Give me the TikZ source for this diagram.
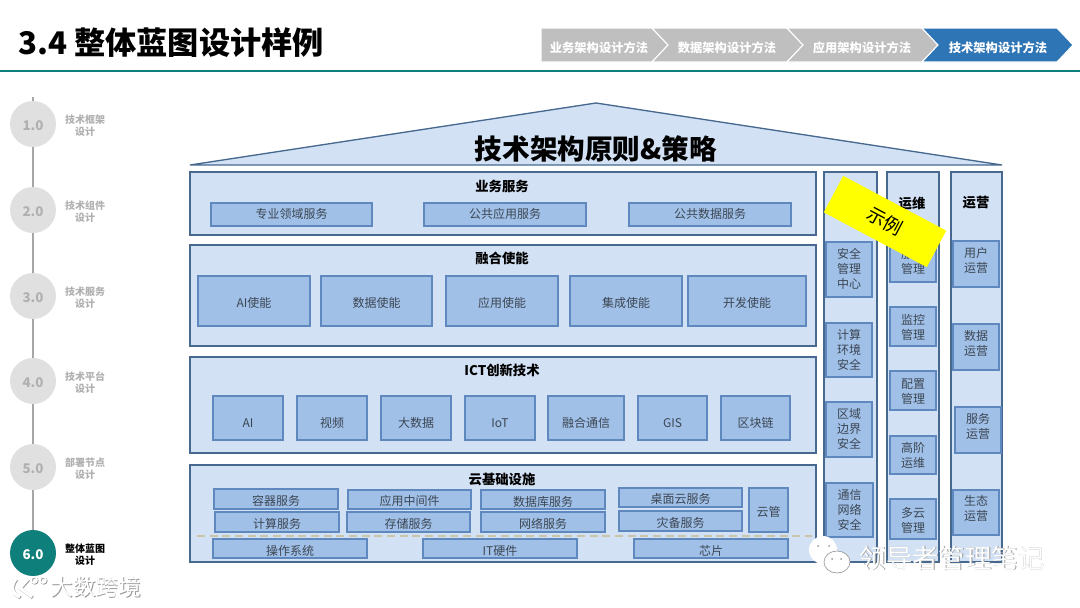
\documentclass[tikz,border=0pt]{standalone}
\usepackage{fontspec}
\setmainfont{Noto Sans CJK SC}
\definecolor{panelfill}{HTML}{D2E1F4}
\definecolor{paneldraw}{HTML}{47698F}
\definecolor{itemfill}{HTML}{A0C0E8}
\definecolor{itemdraw}{HTML}{5F88BE}
\definecolor{itemtext}{HTML}{3C4652}
\definecolor{tealline}{HTML}{0F7F7C}
\definecolor{stepgray}{HTML}{BFBFBF}
\definecolor{stepblue}{HTML}{2E75B6}
\definecolor{railgray}{HTML}{A6A6A6}
\definecolor{dotgray}{HTML}{E0E0E0}
\definecolor{labelgray}{HTML}{B0B0B0}
\definecolor{dashtan}{HTML}{C9C5A8}
\definecolor{markgray}{HTML}{9A9A9A}
\definecolor{signyellow}{HTML}{FFFF00}
\tikzset{
    panel/.style={draw=paneldraw, fill=panelfill, line width=1pt, inner sep=0pt},
    itembox/.style={draw=itemdraw, fill=itemfill, line width=0.9pt, inner sep=0pt},
    itemlabel/.style={align=center, inner sep=0pt, text=itemtext, font=\fontsize{9pt}{11.2pt}\selectfont},
    headtext/.style={font=\fontsize{10pt}{12pt}\selectfont\bfseries, text=black, inner sep=0pt},
    railtext/.style={font=\fontsize{7.5pt}{9pt}\selectfont\bfseries, align=center, inner sep=0pt},
    railnum/.style={circle, minimum size=34.5pt, inner sep=0pt},
    numtext/.style={font=\fontsize{10pt}{12pt}\selectfont\bfseries, inner sep=0pt},
    steptext/.style={font=\fontsize{9.2pt}{11pt}\selectfont\bfseries, text=white, inner sep=0pt},
    wmtext/.style={inner sep=0pt},
}
\begin{document}
\begin{tikzpicture}[x=0.75pt, y=-0.75pt]
    \useasboundingbox (0,0) rectangle (1080,607);

    % 标题
    \node[font=\fontsize{23.4pt}{28pt}\selectfont\bfseries, anchor=west, inner sep=0pt] (title) at (18,43) {3.4 整体蓝图设计样例};
    \draw[tealline, line width=1.8pt] (0,71) -- (1080,71);

    % 顶部步骤条
    \foreach \a/\b/\c/\col in {
        541/652/0/stepgray,
        652/787/16/stepgray,
        787/922/16/stepgray,
        922/1057/16/stepblue}
    {
        \fill[\col, draw=white, line width=0.8pt] (\a,28) -- (\b,28) -- (\b+16,45) -- (\b,62) -- (\a,62) -- (\a+\c,45) -- cycle;
    }
    \node[steptext] (s1) at (599,47.5) {业务架构设计方法};
    \node[steptext] (s2) at (727,47.5) {数据架构设计方法};
    \node[steptext] (s3) at (862,47.5) {应用架构设计方法};
    \node[steptext] (s4) at (998,47.5) {技术架构设计方法};

    % 左侧导航
    \draw[railgray, line width=2.2pt] (33,97) -- (33,540);
    \foreach \n/\y/\num/\la in {
        r1/124/1.0/技术框架,
        r2/210/2.0/技术组件,
        r3/296/3.0/技术服务,
        r4/381/4.0/技术平台,
        r5/467/5.0/部署节点}
    {
        \node[railnum, fill=dotgray] (\n) at (33,\y) {};
        \node[numtext, text=labelgray] (\n n) at (33,\y+2) {\num};
        \node[railtext, text=labelgray] (\n t) at (85,\y+2) {\la\\设计};
    }
    \node[railnum, fill=tealline] (r6) at (33,553) {};
    \node[numtext, text=white] (r6n) at (33,555) {6.0};
    \node[railtext, text=black] (r6t) at (85,555) {整体蓝图\\设计};

    % 屋顶
    \filldraw[fill=panelfill, draw=paneldraw, line width=1pt] (190,165) -- (596,103) -- (1002,165) -- cycle;
    \node[font=\fontsize{20.7pt}{24pt}\selectfont\bfseries, inner sep=0pt] (rooftext) at (596,149) {技术架构原则\&策略};

    % 外框
    \foreach \n/\xa/\ya/\xb/\yb in {
        p1/190/172/816/235,
        p2/190/245/816/346,
        p3/190/357/816/453,
        p4/190/465/816/562,
        c1/824/172/877/562,
        c2/887/172/939/562,
        c3/951/172/1002/562}
    {
        \node[panel, minimum width={(\xb-\xa)*0.75pt}, minimum height={(\yb-\ya)*0.75pt}] (\n) at ({(\xa+\xb)/2},{(\ya+\yb)/2}) {};
    }
    \node[headtext] (p1t) at (502,186) {业务服务};
    \node[headtext] (p2t) at (502,258) {融合使能};
    \node[headtext] (p3t) at (502,370) {ICT创新技术};
    \node[headtext] (p4t) at (502,479) {云基础设施};
    \node[headtext] (c2t) at (912,203) {运维};
    \node[headtext] (c3t) at (976,203) {运营};

    % 小方块（最后一列之前是文字的上下偏移）
    \foreach \n/\xa/\ya/\xb/\yb/\dy/\txt in {
        a1/211/203/372/226/-1/专业领域服务,
        a2/424/203/586/226/-1/公共应用服务,
        a3/629/203/791/226/-1/公共数据服务,
        b1/198/276/310/326/2/AI使能,
        b2/321/276/432/326/2/数据使能,
        b3/446/276/558/326/2/应用使能,
        b4/570/276/682/326/2/集成使能,
        b5/688/276/806/326/2/开发使能,
        d1/213/396/283/440/5/AI,
        d2/297/396/367/440/5/视频,
        d3/381/396/451/440/5/大数据,
        d4/465/396/535/440/5/IoT,
        d5/548/396/624/440/5/融合通信,
        d6/638/396/707/440/5/GIS,
        d7/721/396/790/440/5/区块链,
        e1/214/489/338/509/2/容器服务,
        e2/215/512/339/532/2/计算服务,
        e3/348/490/471/509/1/应用中间件,
        e4/347/512/470/532/2/存储服务,
        e5/481/490/605/509/2/数据库服务,
        e6/481/512/605/532/2/网络服务,
        e7/619/488/742/507/1/桌面云服务,
        e8/619/511/742/531/2/灾备服务,
        e9/749/488/788/532/2/云管,
        f1/213/539/367/558/2/操作系统,
        f2/423/539/577/558/2/IT硬件,
        f3/634/539/788/558/2/芯片,
        g1/826/242/872/297/-1/{安全\\管理\\中心},
        g2/826/323/872/377/0/{计算\\环境\\安全},
        g3/826/402/872/457/-1/{区域\\边界\\安全},
        g4/826/483/873/537/0/{通信\\网络\\安全},
        h1/890/243/936/282/-1/{服务\\管理},
        h2/890/307/936/346/1/{监控\\管理},
        h3/890/371/936/410/1/{配置\\管理},
        h4/890/436/936/474/0/{高阶\\运维},
        h5/890/499/936/539/1.5/{多云\\管理},
        k1/953/241/999/287/-4/{用户\\运营},
        k2/953/324/999/370/-3.5/{数据\\运营},
        k3/955/407/1001/453/-4/{服务\\运营},
        k4/953/490/999/535/-4/{生态\\运营}}
    {
        \node[itembox, minimum width={(\xb-\xa)*0.75pt}, minimum height={(\yb-\ya)*0.75pt}] (\n) at ({(\xa+\xb)/2},{(\ya+\yb)/2}) {};
        \node[itemlabel] (\n t) at ({(\xa+\xb)/2},{(\ya+\yb)/2+\dy}) {\txt};
    }

    % 虚线
    \draw[dashtan, line width=1.2pt, dash pattern=on 6pt off 3.5pt] (197,536) -- (812,536);

    % 示例标签
    \node[fill=signyellow, rotate=-28, minimum width=87.5pt, minimum height=31pt, inner sep=0pt, font=\fontsize{14pt}{16pt}\selectfont] (sample) at (885,221.5) {示例};

    % 水印
    \node[wmtext, text=markgray, font=\fontsize{19.8pt}{22pt}\selectfont] (wm1s) at (952.8,558.8) {领导者管理笔记};
    \node[wmtext, text=white, font=\fontsize{19.8pt}{22pt}\selectfont] (wm1) at (952,558) {领导者管理笔记};
    \fill[white] (823,550) ellipse (14 and 14);
    \fill[white] (815,563) -- (812,569) -- (821,565) -- cycle;
    \filldraw[fill=white, draw=markgray, line width=0.5pt] (837,562) ellipse (13 and 11);
    \fill[markgray] (818,546) circle (1) (829,546) circle (1) (832,559) circle (1) (841,559) circle (1);

    \node[wmtext, text=markgray, font=\fontsize{17pt}{20pt}\selectfont] (wm2s) at (96.8,587.8) {大数跨境};
    \node[wmtext, text=white, font=\fontsize{17pt}{20pt}\selectfont] (wm2) at (96,587) {大数跨境};
    \foreach \col/\d in {markgray/0.8, white/0}
    {
        \draw[\col, line width=2.4pt] (16+\d,579+\d) .. controls (10+\d,586+\d) and (12+\d,594+\d) .. (20+\d,597+\d);
        \draw[\col, line width=2.4pt] (28+\d,579+\d) -- (20+\d,588+\d) -- (32+\d,597+\d);
        \draw[\col, line width=1.2pt] (34+\d,580+\d) circle (3) (43+\d,580+\d) circle (3);
    }
\end{tikzpicture}
\end{document}
